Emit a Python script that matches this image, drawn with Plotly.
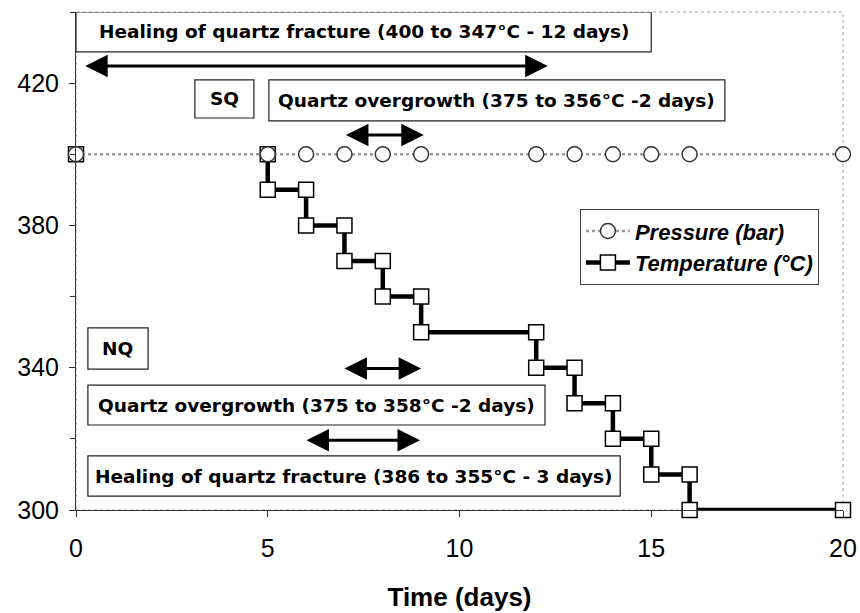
import plotly.graph_objects as go

# Run time (days) and conditions
pressure_days = [0, 5, 6, 7, 8, 9, 12, 13, 14, 15, 16, 20]
pressure_bar = [400, 400, 400, 400, 400, 400, 400, 400, 400, 400, 400, 400]

# Stepwise cooling path; the None entry leaves the first hold undrawn
temp_days = [0, 2.5, 5, 5, 6, 6, 7, 7, 8, 8, 9, 9, 12, 12, 13, 13, 14, 14, 15, 15, 16, 16, 20]
temp_c = [400, None, 400, 390, 390, 380, 380, 370, 370, 360, 360, 350, 350, 340,
          340, 330, 330, 320, 320, 310, 310, 300, 300]

y_ticks = [300, 340, 380, 420]
x_ticks = [0, 5, 10, 15, 20]

FONT = "Arial, 'Liberation Sans', sans-serif"
BOX_FONT = "'DejaVu Sans', sans-serif"

fig = go.Figure()
fig.add_trace(go.Scatter(
    x=temp_days, y=temp_c, mode="lines+markers",
    name="<b><i>Temperature (°C)</i></b>", cliponaxis=False,
    connectgaps=False, legendrank=2,
    line=dict(color="black", width=4.5),
    marker=dict(symbol="square", size=15, color="white",
                line=dict(color="black", width=1.5)),
))
fig.add_trace(go.Scatter(
    x=pressure_days, y=pressure_bar, mode="lines+markers",
    name="<b><i>Pressure (bar)</i></b>", cliponaxis=False, legendrank=1,
    line=dict(color="#9a9a9a", width=2.5, dash="dot"),
    marker=dict(symbol="circle", size=15, color="white",
                line=dict(color="#333333", width=1.5)),
))

# Labelled boxes: (x0, x1, y0, y1, text)
boxes = [
    (0.0, 15.0, 428.8, 440.0, "Healing of quartz fracture (400 to 347°C - 12 days)"),
    (3.1, 4.64, 410.2, 420.9, "SQ"),
    (5.03, 16.92, 409.4, 420.9, "Quartz overgrowth (375 to 356°C -2 days)"),
    (0.31, 1.88, 339.6, 351.2, "NQ"),
    (0.31, 12.23, 323.9, 335.1, "Quartz overgrowth (375 to 358°C -2 days)"),
    (0.31, 14.19, 303.9, 315.2, "Healing of quartz fracture (386 to 355°C - 3 days)"),
]
for x0, x1, y0, y1, txt in boxes:
    fig.add_shape(type="rect", x0=x0, x1=x1, y0=y0, y1=y1, xref="x", yref="y",
                  line=dict(color="#222222", width=1.2), fillcolor="white", layer="above")
    fig.add_annotation(x=(x0 + x1) / 2, y=(y0 + y1) / 2,
                       xref="x", yref="y", text=f"<b>{txt}</b>", showarrow=False,
                       xanchor="center", yanchor="middle",
                       font=dict(family=BOX_FONT, size=18.5, color="black"))

# Duration arrows: (start day, end day, level)
arrows = [
    (0.2, 12.3, 424.8),
    (7.0, 9.07, 405.4),
    (6.96, 9.0, 339.8),
    (5.97, 8.97, 319.6),
]
for xs, xe, yv in arrows:
    fig.add_annotation(x=xe, y=yv, ax=xs, ay=yv, xref="x", yref="y", axref="x", ayref="y",
                       text="", showarrow=True, arrowhead=2, arrowside="end+start",
                       arrowsize=1.5, arrowwidth=3, arrowcolor="black")

# Plot-area frame
fig.add_shape(type="rect", x0=0, x1=1, y0=0, y1=1, xref="paper", yref="paper",
              line=dict(color="#a0a0a0", width=1, dash="dot"), layer="below")

fig.update_layout(
    width=860, height=613,
    margin=dict(l=76, r=17, t=12, b=103, autoexpand=False),
    paper_bgcolor="white", plot_bgcolor="white",
    font=dict(family=FONT, color="black"),
    showlegend=True,
    legend=dict(x=0.657, y=0.604, xanchor="left", yanchor="top",
                bordercolor="#444444", borderwidth=1, bgcolor="white",
                font=dict(family=FONT, size=22, color="black"),
                tracegroupgap=4, itemwidth=44),
    xaxis=dict(range=[0, 20], tickvals=x_ticks, showgrid=False, zeroline=False,
               showline=True, linecolor="#333333", linewidth=1, automargin=False,
               ticks="outside", ticklen=6, tickcolor="#333333",
               tickfont=dict(size=25), ticklabelstandoff=10,
               title=dict(text="<b>Time (days)</b>", font=dict(size=26), standoff=26)),
    yaxis=dict(range=[300, 440], tickvals=y_ticks, showgrid=False, zeroline=False,
               showline=True, linecolor="#333333", linewidth=1, automargin=False,
               ticks="outside", ticklen=6, tickcolor="#333333",
               minor=dict(tickvals=[320, 360, 400, 440], ticks="outside", ticklen=5,
                          tickcolor="#333333"),
               tickfont=dict(size=25), ticklabelstandoff=5),
)

fig.write_html("out.html")
